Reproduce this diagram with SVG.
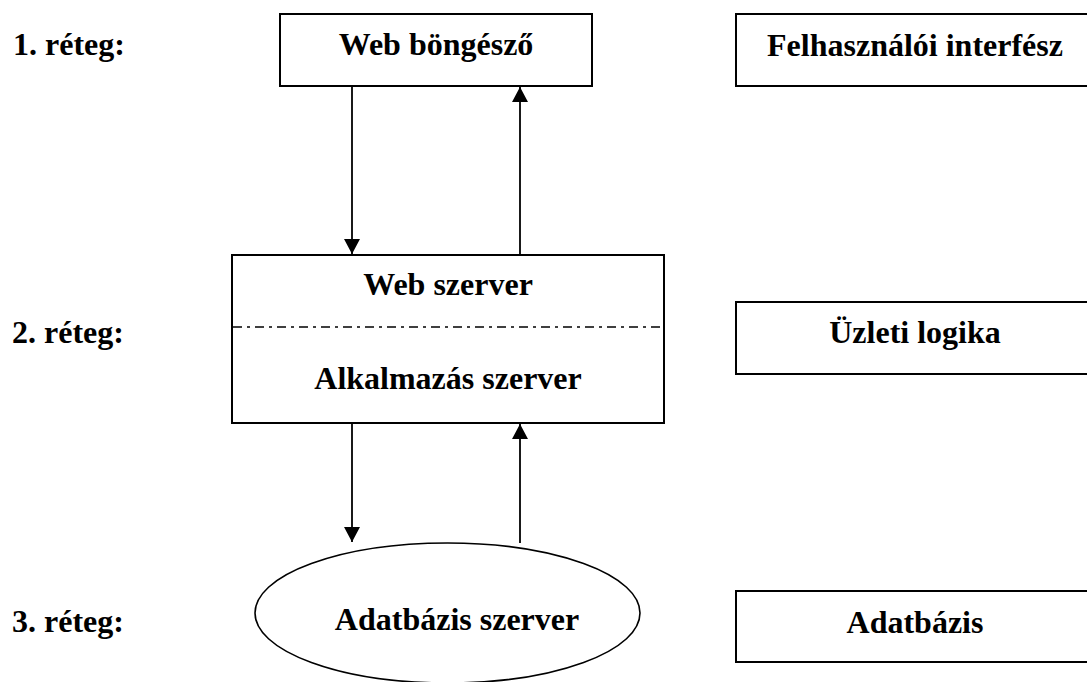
<svg xmlns="http://www.w3.org/2000/svg" width="1087" height="682" viewBox="0 0 1087 682">
  <style>
    text { font-family: "Liberation Serif", "Times New Roman", serif; font-weight: bold; font-size: 32px; fill: #000; }
    .mid { text-anchor: middle; }
    .box { fill: #fff; stroke: #000; stroke-width: 2; }
    .link { stroke: #000; stroke-width: 1.8; fill: none; marker-end: url(#head); }
  </style>
  <defs>
    <marker id="head" markerUnits="userSpaceOnUse" markerWidth="16" markerHeight="16" viewBox="0 0 16 16" refX="15" refY="8" orient="auto">
      <path d="M0,0 L15,8 L0,16 Z" fill="#000"/>
    </marker>
  </defs>

  <rect width="1087" height="682" fill="#fff"/>

  <!-- layer labels -->
  <g id="layer-labels">
    <text x="13" y="55">1. réteg:</text>
    <text x="12" y="343">2. réteg:</text>
    <text x="12" y="632">3. réteg:</text>
  </g>

  <g id="browser">
    <rect class="box" x="280" y="14" width="312" height="72"/>
    <text class="mid" x="436" y="55">Web böngésző</text>
  </g>

  <g id="server">
    <rect class="box" x="232" y="255" width="432" height="168"/>
    <line x1="233" y1="327" x2="663" y2="327" stroke="#000" stroke-width="1.3" stroke-dasharray="9 5 3 5"/>
    <text class="mid" x="448" y="295">Web szerver</text>
    <text class="mid" x="448" y="389">Alkalmazás szerver</text>
  </g>

  <g id="db-server">
    <ellipse cx="447.5" cy="613" rx="192.5" ry="70" fill="#fff" stroke="#000" stroke-width="1.6"/>
    <text class="mid" x="457" y="630">Adatbázis szerver</text>
  </g>

  <g id="ui">
    <rect class="box" x="736" y="14" width="360" height="72"/>
    <text class="mid" x="915" y="56">Felhasználói interfész</text>
  </g>

  <g id="logic">
    <rect class="box" x="736" y="302" width="360" height="72"/>
    <text class="mid" x="915" y="343">Üzleti logika</text>
  </g>

  <g id="database">
    <rect class="box" x="736" y="591" width="360" height="71"/>
    <text class="mid" x="915" y="633">Adatbázis</text>
  </g>

  <g id="connectors">
    <line class="link" x1="352" y1="87" x2="352" y2="254"/>
    <line class="link" x1="520" y1="254" x2="520" y2="87"/>
    <line class="link" x1="352" y1="424" x2="352" y2="542"/>
    <line class="link" x1="520" y1="543" x2="520" y2="424"/>
  </g>
</svg>
